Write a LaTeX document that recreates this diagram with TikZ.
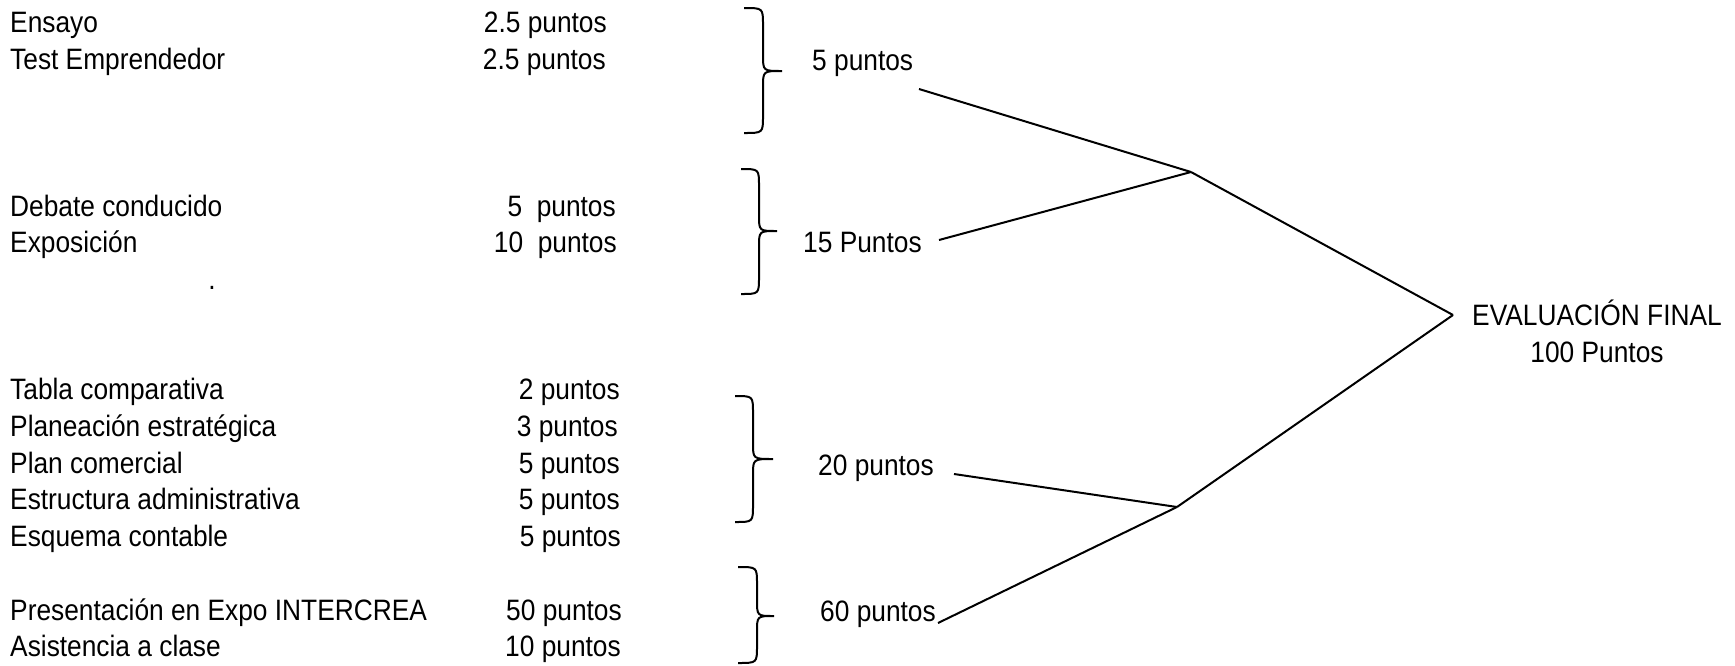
\documentclass[tikz,border=0pt]{standalone}
\usepackage{fontspec}
\setmainfont{Liberation Sans}[FakeStretch=0.892]
\newcommand\mybrace[6]{% x0, stem x, tip x, top y, mid y, bottom y
  \draw[brc] (#1,#4) .. controls (#2,#4) .. (#2,#4+17) -- (#2,#5-16)
    .. controls (#2,#5) .. (#3,#5) .. controls (#2,#5) .. (#2,#5+16)
    -- (#2,#6-17) .. controls (#2,#6) .. (#1,#6);}
\begin{document}
\begin{tikzpicture}[x=1pt,y=-1pt,
  font=\fontsize{29.5}{35}\selectfont,
  lbl/.style={inner sep=0pt,anchor=base west},
  pts/.style={inner sep=0pt,anchor=base east},
  ctr/.style={inner sep=0pt,anchor=base},
  conn/.style={line width=2pt},
  brc/.style={line width=2pt}]
\useasboundingbox (0,0) rectangle (1735,665);
% item labels
\node[lbl] (e1) at (10,32) {Ensayo};
\node[lbl] (e2) at (10,69) {Test Emprendedor};
\node[lbl] (e3) at (10,216) {Debate conducido};
\node[lbl] (e4) at (10,252) {Exposición};
\node[ctr] (dot) at (212,289) {.};
\node[lbl] (e5) at (10,399) {Tabla comparativa};
\node[lbl] (e6) at (10,436) {Planeación estratégica};
\node[lbl] (e7) at (10,473) {Plan comercial};
\node[lbl] (e8) at (10,509) {Estructura administrativa};
\node[lbl] (e9) at (10,546) {Esquema contable};
\node[lbl] (e10) at (10,620) {Presentación en Expo INTERCREA};
\node[lbl] (e11) at (10,656) {Asistencia a clase};
% points
\node[pts] (p1) at (607,32) {2.5 puntos};
\node[pts] (p2) at (606,69) {2.5 puntos};
\node[pts] (p3) at (616,216) {5\ \ puntos};
\node[pts] (p4) at (617,252) {10\ \ puntos};
\node[pts] (p5) at (620,399) {2 puntos};
\node[pts] (p6) at (618,436) {3 puntos};
\node[pts] (p7) at (620,473) {5 puntos};
\node[pts] (p8) at (620,509) {5 puntos};
\node[pts] (p9) at (621,546) {5 puntos};
\node[pts] (p10) at (622,620) {50 puntos};
\node[pts] (p11) at (621,656) {10 puntos};
% braces
\mybrace{744}{763}{782}{8}{71}{133}
\mybrace{741}{759}{777}{169}{231}{294}
\mybrace{735}{753}{773}{396}{459}{522}
\mybrace{738}{757}{774}{567}{616}{663}
% group totals
\node[lbl] (g1) at (812,70) {5 puntos};
\node[lbl] (g2) at (803,252) {15 Puntos};
\node[lbl] (g3) at (818,475) {20 puntos};
\node[lbl] (g4) at (820,621) {60 puntos};
% final
\node[ctr] (eval) at (1597,325) {EVALUACIÓN FINAL};
\node[ctr] (evalpts) at (1597,362) {100 Puntos};
% connector points
\coordinate (s1) at (919,89);
\coordinate (s2) at (939,240);
\coordinate (s3) at (954,474);
\coordinate (s4) at (938,623);
\coordinate (j1) at (1191,172);
\coordinate (j2) at (1177,507);
\coordinate (apex) at (1453,315);
% connectors
\draw[conn] (s1) -- (j1);
\draw[conn] (s2) -- (j1);
\draw[conn] (j1) -- (apex);
\draw[conn] (s3) -- (j2);
\draw[conn] (s4) -- (j2);
\draw[conn] (j2) -- (apex);
\end{tikzpicture}
\end{document}
